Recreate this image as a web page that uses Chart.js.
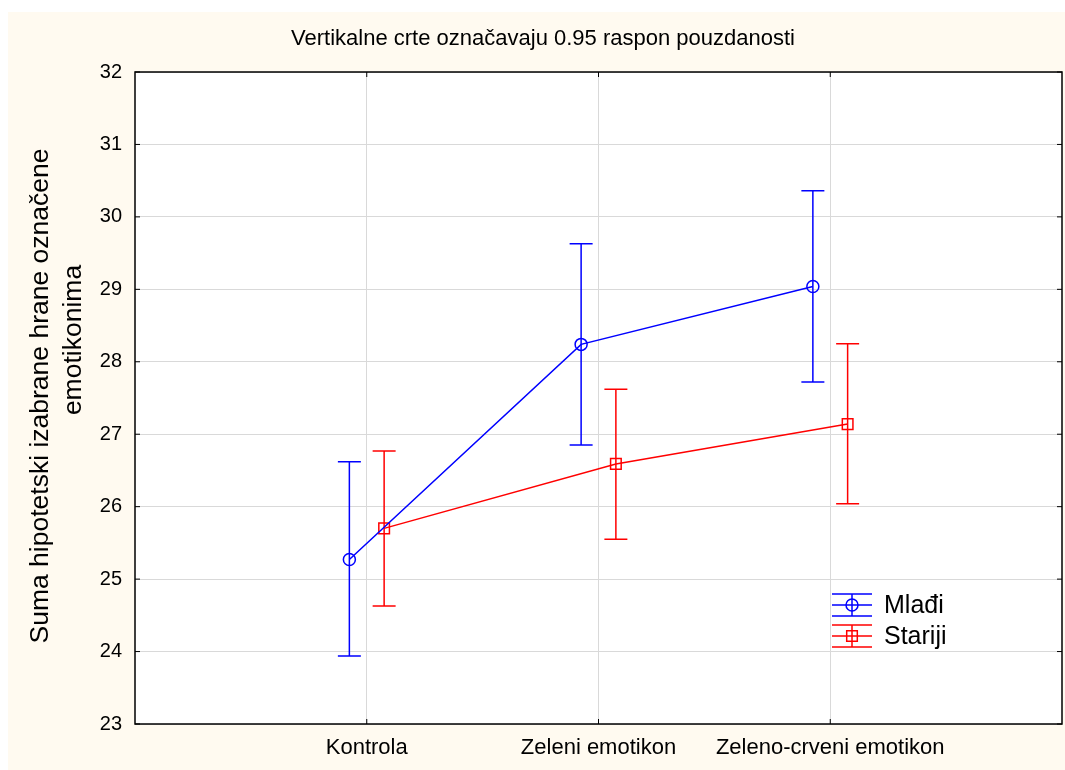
<!DOCTYPE html>
<html>
<head>
<meta charset="utf-8">
<script src="https://cdn.jsdelivr.net/npm/chart.js@4.4.0/dist/chart.umd.min.js"></script>
<style>
  html, body { margin: 0; padding: 0; background: #fff; }
  #wrap { width: 1065px; height: 770px; }
</style>
</head>
<body>
<div id="wrap"><canvas id="chart" width="1065" height="770"></canvas></div>
<script>
// Data
const categories = ['Kontrola', 'Zeleni emotikon', 'Zeleno-crveni emotikon'];
const seriesNames = ['Mlađi', 'Stariji'];

const mladiMean = [25.27, 28.24, 29.04];
const mladiLow  = [23.94, 26.85, 27.72];
const mladiHigh = [26.62, 29.63, 30.36];

const stariMean = [25.70, 26.59, 27.14];
const stariLow  = [24.63, 25.55, 26.04];
const stariHigh = [26.77, 27.62, 28.25];

const yTicks = [23, 24, 25, 26, 27, 28, 29, 30, 31, 32];

const titleText = 'Vertikalne crte označavaju 0.95 raspon pouzdanosti';
const yTitle = ['Suma hipotetski izabrane hrane označene', 'emotikonima'];

// small horizontal shift so the two groups don't overlap
const SHIFT = 0.075;
const FONT = 'Arial, "Liberation Sans", sans-serif';

function toPoints(vals, off) {
    return vals.map((v, i) => ({ x: i + off, y: v }));
}

// Background: cream panel, white plot area
const backgroundPlugin = {
    id: 'bg',
    beforeDraw(chart) {
        const ctx = chart.ctx;
        const a = chart.chartArea;
        ctx.save();
        ctx.fillStyle = '#ffffff';
        ctx.fillRect(0, 0, chart.width, chart.height);
        ctx.fillStyle = '#fffaf0';
        ctx.fillRect(8, 12, chart.width - 8, chart.height - 12);
        ctx.fillStyle = '#ffffff';
        ctx.fillRect(a.left, a.top, a.right - a.left, a.bottom - a.top);
        ctx.restore();
    }
};

// Confidence interval whiskers
const errorBarPlugin = {
    id: 'errorBars',
    beforeDatasetsDraw(chart) {
        const ctx = chart.ctx;
        const yScale = chart.scales.y;
        chart.data.datasets.forEach((ds, i) => {
            const meta = chart.getDatasetMeta(i);
            ctx.save();
            ctx.strokeStyle = ds.borderColor;
            ctx.lineWidth = 1.5;
            meta.data.forEach((pt, j) => {
                const yLo = yScale.getPixelForValue(ds.low[j]);
                const yHi = yScale.getPixelForValue(ds.high[j]);
                ctx.beginPath();
                ctx.moveTo(pt.x, yLo);
                ctx.lineTo(pt.x, yHi);
                ctx.moveTo(pt.x - 11.5, yLo);
                ctx.lineTo(pt.x + 11.5, yLo);
                ctx.moveTo(pt.x - 11.5, yHi);
                ctx.lineTo(pt.x + 11.5, yHi);
                ctx.stroke();
            });
            ctx.restore();
        });
    }
};

// Frame, inward ticks, titles and the legend box
const decorPlugin = {
    id: 'decor',
    afterDraw(chart) {
        const ctx = chart.ctx;
        const a = chart.chartArea;
        const xs = chart.scales.x, ys = chart.scales.y;
        ctx.save();

        // frame
        ctx.strokeStyle = '#000';
        ctx.lineWidth = 1.5;
        ctx.strokeRect(a.left, a.top, a.right - a.left, a.bottom - a.top);

        // inward tick marks
        ctx.lineWidth = 1;
        ctx.beginPath();
        yTicks.forEach(v => {
            const y = ys.getPixelForValue(v);
            ctx.moveTo(a.left, y); ctx.lineTo(a.left + 5, y);
            ctx.moveTo(a.right, y); ctx.lineTo(a.right - 5, y);
        });
        categories.forEach((c, i) => {
            const x = xs.getPixelForValue(i);
            ctx.moveTo(x, a.top); ctx.lineTo(x, a.top + 5);
            ctx.moveTo(x, a.bottom); ctx.lineTo(x, a.bottom - 5);
        });
        ctx.stroke();

        // title
        ctx.fillStyle = '#000';
        ctx.font = '22px ' + FONT;
        ctx.textAlign = 'center';
        ctx.textBaseline = 'middle';
        ctx.fillText(titleText, 543, 39);

        // y axis title (two lines)
        ctx.font = '26.5px ' + FONT;
        ctx.save();
        ctx.translate(41, 396);
        ctx.rotate(-Math.PI / 2);
        ctx.fillText(yTitle[0], 0, 0);
        ctx.restore();
        ctx.save();
        ctx.translate(74, 340);
        ctx.rotate(-Math.PI / 2);
        ctx.fillText(yTitle[1], 0, 0);
        ctx.restore();

        // legend
        const rows = [605, 636];
        chart.data.datasets.forEach((ds, i) => {
            const cy = rows[i];
            const x0 = 832, x1 = 872, cx = 852, h = 11;
            ctx.strokeStyle = ds.borderColor;
            ctx.fillStyle = 'rgba(0,0,0,0)';
            ctx.lineWidth = 1.5;
            ctx.beginPath();
            ctx.moveTo(x0, cy - h); ctx.lineTo(x1, cy - h);
            ctx.moveTo(x0, cy); ctx.lineTo(x1, cy);
            ctx.moveTo(x0, cy + h); ctx.lineTo(x1, cy + h);
            ctx.moveTo(cx, cy - h); ctx.lineTo(cx, cy + h);
            ctx.stroke();
            Chart.helpers.drawPoint(ctx, {
                pointStyle: ds.pointStyle,
                radius: ds.pointRadius,
                borderWidth: 1.5
            }, cx, cy);
            ctx.fillStyle = '#000';
            ctx.font = '25px ' + FONT;
            ctx.textAlign = 'left';
            ctx.textBaseline = 'middle';
            ctx.fillText(ds.label, 884, cy + 1);
        });

        ctx.restore();
    }
};

const ctx = document.getElementById('chart').getContext('2d');
new Chart(ctx, {
    type: 'line',
    data: {
        datasets: [
            {
                label: seriesNames[0],
                data: toPoints(mladiMean, -SHIFT),
                low: mladiLow,
                high: mladiHigh,
                borderColor: '#0000ff',
                backgroundColor: 'rgba(0,0,0,0)',
                borderWidth: 1.5,
                pointStyle: 'circle',
                pointRadius: 6,
                pointBorderWidth: 1.5,
                pointBackgroundColor: 'rgba(0,0,0,0)',
                tension: 0
            },
            {
                label: seriesNames[1],
                data: toPoints(stariMean, SHIFT),
                low: stariLow,
                high: stariHigh,
                borderColor: '#ff0000',
                backgroundColor: 'rgba(0,0,0,0)',
                borderWidth: 1.5,
                pointStyle: 'rect',
                pointRadius: 7.5,
                pointBorderWidth: 1.5,
                pointBackgroundColor: 'rgba(0,0,0,0)',
                tension: 0
            }
        ]
    },
    options: {
        responsive: false,
        animation: false,
        devicePixelRatio: 1,
        layout: {
            autoPadding: false,
            padding: { top: 72, right: 3, left: 0, bottom: 0 }
        },
        plugins: {
            legend: { display: false },
            title: { display: false },
            tooltip: { enabled: false }
        },
        scales: {
            x: {
                type: 'linear',
                min: -1,
                max: 3,
                afterBuildTicks(scale) {
                    scale.ticks = categories.map((c, i) => ({ value: i }));
                },
                afterFit(scale) {
                    scale.height = 46;
                    scale.paddingLeft = 0;
                    scale.paddingRight = 0;
                },
                ticks: {
                    callback: v => categories[v],
                    color: '#000',
                    font: { family: FONT, size: 22 },
                    padding: 11,
                    maxRotation: 0,
                    autoSkip: false
                },
                grid: { color: '#d9d9d9', lineWidth: 1, drawTicks: false },
                border: { display: false }
            },
            y: {
                min: 23,
                max: 32,
                afterBuildTicks(scale) {
                    scale.ticks = yTicks.map(v => ({ value: v }));
                },
                afterFit(scale) {
                    scale.width = 135;
                    scale.paddingTop = 0;
                    scale.paddingBottom = 0;
                },
                ticks: {
                    color: '#000',
                    font: { family: FONT, size: 20 },
                    padding: 13
                },
                grid: { color: '#d9d9d9', lineWidth: 1, drawTicks: false },
                border: { display: false }
            }
        }
    },
    plugins: [backgroundPlugin, errorBarPlugin, decorPlugin]
});
</script>
</body>
</html>
